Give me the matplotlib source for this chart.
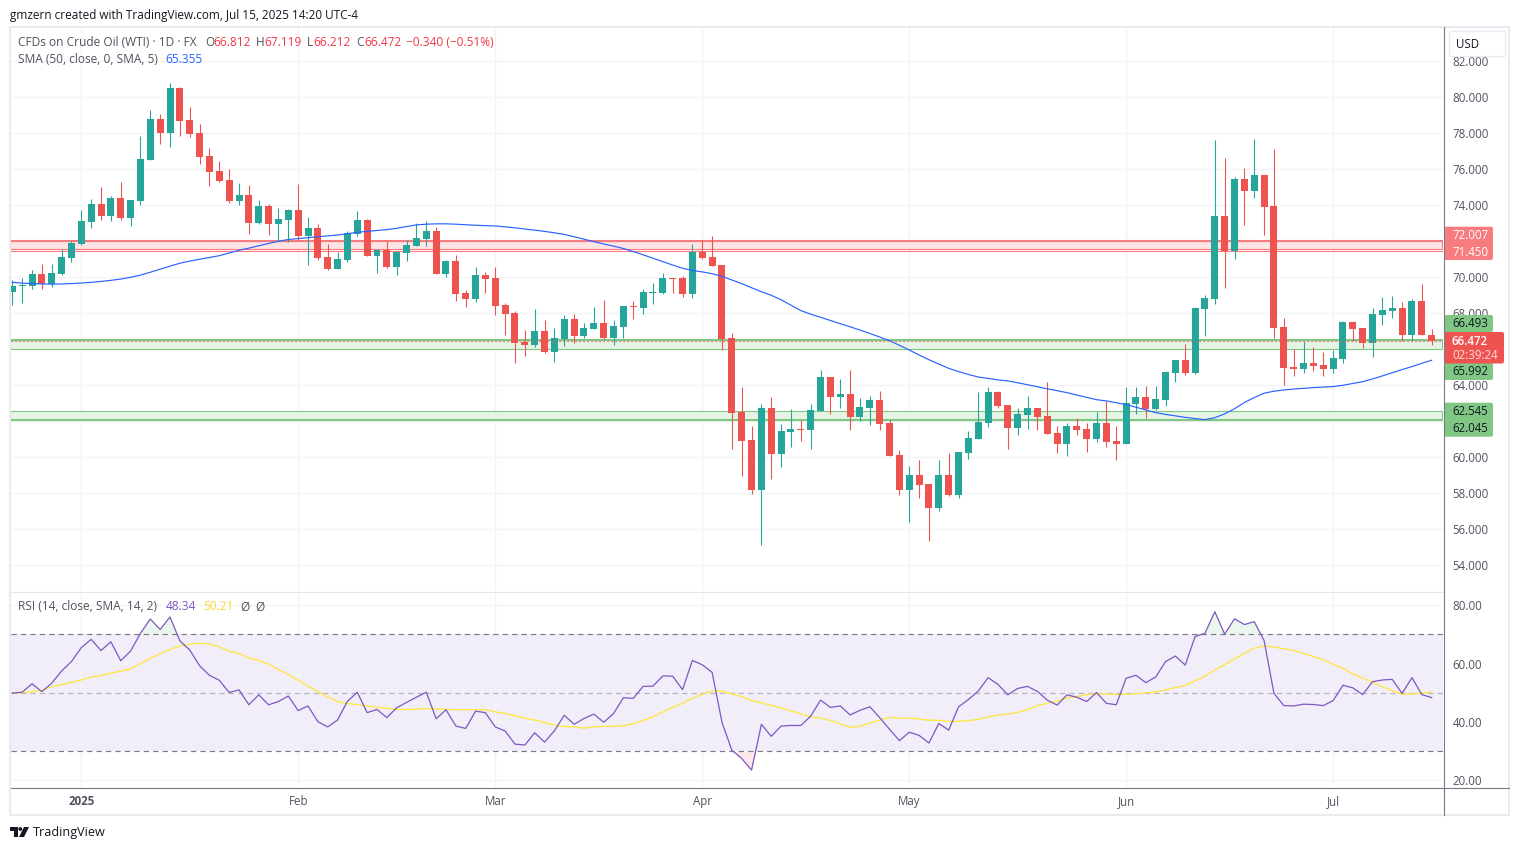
import matplotlib
matplotlib.use("Agg")
import matplotlib.pyplot as plt
from matplotlib.patches import Rectangle, FancyBboxPatch, Polygon, Circle
import numpy as np

plt.rcParams['font.family'] = ['Open Sans', 'DejaVu Sans']

opens = [69.19,69.52,69.52,70.19,69.63,70.19,71.07,71.85,73.07,74.07,
 73.41,74.41,73.30,74.24,76.52,78.80,78.02,80.52,78.74,78.02,
 76.74,75.91,75.41,74.24,74.57,73.02,73.96,72.96,73.19,73.74,
 72.30,72.74,71.13,70.46,70.96,72.41,73.19,71.19,71.52,70.57,
 71.35,71.74,72.13,72.57,70.19,70.91,69.13,68.80,70.13,69.96,
 68.46,68.02,66.41,66.24,67.02,65.85,66.57,67.69,66.74,67.13,
 67.46,66.63,67.24,68.41,68.30,69.13,69.13,69.96,69.96,69.07,
 71.41,71.13,70.69,66.63,62.52,60.96,58.19,62.74,60.19,61.41,
 61.57,61.52,62.57,64.46,63.35,63.52,62.24,62.74,63.19,61.91,
 60.13,58.19,59.02,58.52,57.19,59.02,57.91,60.24,61.02,61.91,
 63.63,62.91,61.63,62.35,62.74,62.30,61.35,60.74,61.74,61.57,
 61.02,61.91,60.91,60.74,62.96,63.35,62.69,63.19,64.69,65.41,
 64.69,68.24,68.80,73.41,71.46,75.46,74.80,75.69,73.96,67.24,
 65.02,64.91,65.24,65.13,64.91,65.46,67.52,67.19,66.35,67.91,
 68.13,68.30,66.80,68.69,66.812]
highs = [69.85,69.96,70.41,70.74,70.74,71.56,72.02,73.74,74.35,75.02,
 74.52,75.30,74.30,77.85,79.30,79.07,80.80,80.57,79.46,78.52,
 77.19,76.46,76.02,75.24,75.13,74.30,74.07,73.85,73.80,75.19,
 73.35,72.96,71.85,71.41,72.57,73.69,73.24,71.57,72.02,71.46,
 72.07,73.02,73.13,72.80,70.96,71.24,69.30,70.57,70.30,70.57,
 68.57,68.13,67.07,68.24,67.63,67.19,67.91,67.96,67.46,68.35,
 68.74,67.63,68.41,68.69,69.35,69.69,70.24,69.96,70.07,71.85,
 72.07,72.30,70.69,66.91,63.91,61.74,62.96,63.35,61.85,62.69,
 62.07,62.96,64.85,64.46,64.35,64.85,63.30,63.41,63.69,62.07,
 60.41,59.52,59.85,58.52,59.85,60.24,60.30,61.46,63.63,63.91,
 63.69,62.91,62.74,63.41,62.74,64.19,61.74,61.91,62.19,61.91,
 62.52,63.13,61.74,63.91,63.91,63.96,63.96,64.80,65.41,66.30,
 68.35,69.02,77.63,76.63,75.57,76.07,77.69,75.69,77.13,67.74,
 66.02,66.46,66.13,65.85,65.96,67.57,67.57,67.19,68.30,68.91,
 68.96,68.63,68.80,69.63,67.119]
lows = [68.46,68.57,69.35,69.35,69.46,70.13,70.85,71.80,72.74,73.19,
 73.13,73.19,72.85,74.02,76.52,77.41,77.24,77.85,77.80,76.30,
 75.07,75.30,74.13,74.02,72.41,72.96,72.35,72.02,71.96,72.07,
 70.69,70.96,70.41,70.46,70.85,72.30,71.19,70.24,70.52,70.13,
 70.91,71.74,71.74,70.19,70.02,68.69,68.35,68.63,69.13,67.91,
 66.80,65.24,65.63,66.13,65.80,65.30,66.19,66.35,66.63,67.13,
 66.57,66.24,66.63,67.69,67.96,68.52,69.07,69.13,68.91,68.85,
 71.02,70.63,65.96,60.46,58.96,57.96,55.13,58.80,59.46,60.57,
 60.91,60.46,62.57,62.41,62.74,61.52,62.02,61.80,61.52,60.07,
 57.91,56.41,57.74,55.35,57.02,57.85,57.74,59.91,61.02,61.69,
 62.74,60.46,61.24,61.57,61.52,61.30,60.24,60.07,61.24,60.30,
 60.85,60.57,59.83,60.74,62.41,62.19,62.63,62.85,64.19,64.57,
 64.63,66.74,68.52,69.41,71.02,72.91,74.41,72.35,66.63,64.02,
 64.52,64.69,64.80,64.52,64.69,65.24,66.46,66.07,65.57,67.35,
 67.74,66.46,66.46,66.80,66.212]
closes = [69.52,69.57,70.19,69.63,70.24,71.13,71.91,73.13,74.07,73.41,
 74.41,73.30,74.30,76.57,78.80,78.02,80.52,78.69,77.96,76.69,
 75.85,75.35,74.24,74.57,73.02,73.96,72.96,73.24,73.74,72.30,
 72.74,71.07,70.46,71.02,72.46,73.19,71.19,71.52,70.57,71.41,
 71.80,72.19,72.57,70.19,70.91,69.07,68.80,70.13,69.91,68.41,
 67.96,66.35,66.24,67.02,65.85,66.63,67.69,66.74,67.19,67.46,
 66.63,67.30,68.41,68.35,69.19,69.19,69.96,69.91,69.07,71.41,
 71.07,70.63,66.57,62.46,60.91,58.19,62.74,60.19,61.46,61.57,
 61.52,62.63,64.46,63.35,63.52,62.24,62.80,63.19,61.85,60.07,
 58.19,59.02,58.46,57.19,59.02,57.91,60.30,61.07,61.96,63.63,
 62.85,61.63,62.41,62.74,62.24,61.30,60.74,61.74,61.52,61.02,
 61.91,60.85,60.74,63.02,63.35,62.69,63.24,64.74,65.41,64.69,
 68.30,68.85,73.41,71.46,75.46,74.80,75.69,73.91,67.19,64.96,
 64.91,65.24,65.07,64.91,65.52,67.52,67.13,66.35,67.96,68.19,
 68.30,66.80,68.69,66.80,66.472]
sma50 = [69.72,69.68,69.65,69.63,69.62,69.63,69.65,69.68,69.72,69.77,
 69.83,69.90,70.00,70.12,70.28,70.45,70.62,70.78,70.90,71.00,
 71.10,71.20,71.35,71.50,71.62,71.75,71.88,72.00,72.10,72.15,
 72.20,72.25,72.30,72.35,72.42,72.50,72.55,72.60,72.65,72.72,
 72.82,72.91,72.95,72.97,72.97,72.95,72.92,72.89,72.87,72.85,
 72.80,72.75,72.68,72.62,72.55,72.47,72.38,72.25,72.12,71.98,
 71.85,71.73,71.60,71.43,71.25,71.06,70.87,70.68,70.50,70.38,
 70.30,70.20,70.05,69.85,69.65,69.42,69.20,69.00,68.75,68.45,
 68.15,67.95,67.78,67.60,67.42,67.25,67.07,66.88,66.68,66.48,
 66.22,65.96,65.68,65.42,65.18,64.94,64.76,64.60,64.46,64.38,
 64.30,64.24,64.14,64.03,63.92,63.80,63.70,63.59,63.46,63.33,
 63.20,63.13,63.03,62.93,62.78,62.63,62.48,62.38,62.30,62.22,
 62.15,62.09,62.20,62.41,62.70,63.04,63.32,63.56,63.67,63.74,
 63.79,63.83,63.87,63.90,63.93,64.00,64.10,64.20,64.35,64.52,
 64.70,64.87,65.04,65.22,65.39]
rsi = [49.9,50.2,53.1,50.4,53.3,57.5,60.7,65.5,68.3,64.5,
 67.5,61.0,64.3,70.4,75.3,71.7,76.0,67.8,64.7,59.3,
 56.0,54.3,50.1,51.0,45.9,49.3,45.9,47.0,48.9,43.9,
 45.5,40.1,38.3,40.7,47.1,50.2,43.2,44.3,41.5,44.9,
 46.7,48.5,50.2,41.1,44.2,38.6,37.8,43.7,43.2,38.3,
 36.9,32.4,32.1,36.3,33.1,37.0,42.3,39.2,41.2,42.7,
 39.9,42.9,48.3,48.1,52.2,52.3,55.8,55.7,51.1,61.1,
 59.6,57.0,39.9,30.3,27.5,23.5,39.2,35.1,38.6,38.8,
 38.8,42.0,47.5,45.0,45.5,42.4,44.0,45.2,41.5,37.5,
 33.6,36.5,35.4,32.8,39.5,37.2,45.2,47.7,50.6,55.2,
 52.9,49.3,51.5,52.2,50.5,47.5,45.8,49.3,48.5,47.0,
 50.1,46.4,45.9,55.0,56.0,53.5,55.4,60.7,62.6,59.5,
 69.3,70.4,77.8,70.1,75.4,73.4,74.4,67.9,49.8,45.6,
 45.5,46.1,46.0,45.6,47.3,52.6,51.7,49.4,53.8,54.4,
 54.6,49.8,55.2,49.4,48.34]
rsi_ma = [49.9,50.1,50.4,50.9,52.1,52.8,53.6,54.4,55.4,55.9,
 56.8,57.4,58.2,60.0,61.8,63.4,64.9,66.0,66.7,67.0,
 66.7,65.8,64.3,63.5,61.9,61.1,59.8,58.0,56.3,54.3,
 52.3,50.4,48.6,47.0,46.3,46.0,45.5,45.0,44.7,44.3,
 44.3,44.4,44.6,44.4,44.3,44.2,44.2,44.2,44.2,43.5,
 42.9,42.1,41.3,40.7,39.8,38.9,38.4,38.3,37.9,38.3,
 38.5,38.5,38.7,39.4,40.5,41.8,43.4,45.0,46.4,48.2,
 49.5,50.6,50.6,49.6,48.7,47.3,46.6,45.7,44.8,43.8,
 42.8,41.7,41.4,40.5,39.4,38.2,38.5,39.7,40.6,41.6,
 41.3,41.3,41.0,40.6,40.6,40.2,40.2,40.5,40.9,41.7,
 42.4,42.7,43.3,44.2,45.6,46.4,47.1,48.3,48.7,49.4,
 49.7,49.6,49.4,49.5,49.7,50.0,50.3,51.0,51.8,52.5,
 54.1,55.7,57.8,59.7,61.6,63.5,65.3,66.1,65.7,65.1,
 64.5,63.5,62.4,61.3,59.8,58.4,56.5,55.1,53.6,52.1,
 50.7,49.5,49.6,49.9,50.21]
month_ticks = [7, 29, 49, 70, 91, 113, 134]
month_labels = ['2025', 'Feb', 'Mar', 'Apr', 'May', 'Jun', 'Jul']
price_ticks = [54, 56, 58, 60, 62, 64, 66, 68, 70, 72, 74, 76, 78, 80, 82]
hidden_price_ticks = [62, 66, 72]
rsi_ticks = [20, 40, 60, 80]
zones = [(71.55, 72.007, 72.007, '#f77c80', '#fde4e5'), (65.992, 66.493, 66.493, '#81c784', '#e6f4e6'),
         (62.045, 62.545, 62.045, '#81c784', '#e6f4e6')]
resistance_low = 71.450
last_price = 66.472

W, H = 1519, 850
GREEN, RED = '#26a69a', '#ef5350'
GRID = '#f3f4f7'
TXT = '#50535e'
FS = 8.3
HS = 8.55

def axbox(x0, y0, x1, y1):
    return [x0 / W, 1 - y1 / H, (x1 - x0) / W, (y1 - y0) / H]

fig = plt.figure(figsize=(W / 100, H / 100), dpi=100, facecolor='white')
ax = fig.add_axes(axbox(10.5, 27, 1443, 591))
ar = fig.add_axes(axbox(10.5, 592, 1443, 787), sharex=ax)

x = np.arange(len(closes))
o, h, l, c = map(np.array, (opens, highs, lows, closes))
cols = [GREEN if a >= b else RED for a, b in zip(c, o)]

xl, xr = -0.183, 145.15
ax.set_xlim(xl, xr)
ax.set_ylim(52.57, 83.906)
ar.set_ylim(17.71, 84.56)

for a in (ax, ar):
    a.grid(True, color=GRID, lw=1.0)
    a.yaxis.tick_right()
    a.tick_params(length=0, labelsize=FS, labelcolor=TXT, pad=7)
    for s in a.spines.values():
        s.set_visible(False)

ax.set_yticks(price_ticks)
ax.set_yticklabels(['' if t in hidden_price_ticks else f'{t:.3f}' for t in price_ticks])
ax.tick_params(axis='x', labelbottom=False)
ar.set_yticks(rsi_ticks)
ar.set_yticklabels([f'{t:.2f}' for t in rsi_ticks])
ar.set_xticks(month_ticks)
ar.set_xticklabels(month_labels)
ar.tick_params(axis='x', pad=5.8)
ar.get_xticklabels()[0].set_fontweight('bold')

# zones
zone_right = (1441.7 - 12.3) / 9.857
for lo, hi, thick, edge, fill in zones:
    ax.add_patch(Rectangle((xl, lo), zone_right - xl, hi - lo, facecolor=fill, edgecolor=edge,
                           lw=0.8, zorder=1.6))
    ax.plot([xl, zone_right], [thick, thick], color=edge, lw=1.5, zorder=1.7)
ax.axhline(resistance_low, color='#f77c80', lw=0.8, zorder=1.7)

# candles
ax.vlines(x, l, h, colors=cols, lw=0.78, zorder=3)
ax.bar(x, np.maximum(np.abs(c - o), 0.06), bottom=np.minimum(o, c), width=0.71, color=cols, lw=0, zorder=3.1)
ax.plot(x, sma50, color='#2962ff', lw=0.85, zorder=4)
ax.axhline(last_price, color=RED, lw=0.9, ls=(0, (1, 2.2)), zorder=4)

# RSI
ar.axhspan(30, 70, color='#f1edf9', lw=0, zorder=0.9)
for lev, col in ((70, '#787b86'), (30, '#787b86'), (50, '#b4b5bc')):
    ar.axhline(lev, color=col, lw=0.85, ls=(0, (4.5, 3.5)), zorder=1.6)
rv = np.array(rsi)
ar.fill_between(x, 70, rv, where=rv >= 70, interpolate=True, color='#eaf6ee', lw=0, zorder=1.2)
ar.fill_between(x, 30, rv, where=rv <= 30, interpolate=True, color='#fde9e7', lw=0, zorder=1.2)
ar.plot(x, rsi_ma, color='#fde83f', lw=0.95, zorder=3)
ar.plot(x, rsi, color='#7e57c2', lw=0.9, zorder=4)

# overlay in pixel coordinates for chart furniture
ov = fig.add_axes([0, 0, 1, 1], zorder=10)
ov.set_xlim(0, W)
ov.set_ylim(H, 0)
ov.axis('off')
ov.patch.set_alpha(0)

# frame
ov.add_patch(Rectangle((10, 27), 1499, 788, fill=False, edgecolor='#e9ebf0', lw=1.5))
ov.plot([10.5, 1443], [591.5, 591.5], color='#e6e8ee', lw=0.8)
ov.plot([10.5, 1509], [787.5, 787.5], color='#787b86', lw=0.8)
ov.plot([1443.5, 1443.5], [27, 815], color='#787b86', lw=0.8)

def label(x0, y0, x1, y1, fc):
    ov.add_patch(FancyBboxPatch((x0 + 1, y0 + 1), x1 - x0 - 2, y1 - y0 - 2, boxstyle='round,pad=1,rounding_size=2',
                                facecolor=fc, edgecolor='none'))

def ptext(px_, py_, s, color, **kw):
    kw.setdefault('fontsize', HS)
    ov.text(px_, py_, s, color=color, va='center', ha='left', **kw)

label(1444, 226.7, 1493, 260, '#f77c80')
ptext(1452, 235, '72.007', 'white', fontsize=FS)
ptext(1452, 252, '71.450', 'white', fontsize=FS)
label(1444, 315, 1493, 332, '#81c784')
ptext(1452, 323.5, '66.493', '#131722', fontsize=FS)
label(1444, 363, 1493, 380, '#81c784')
ptext(1452, 371.5, '65.992', '#131722', fontsize=FS)
label(1444, 332, 1504, 363.5, RED)
ptext(1452, 341, '66.472', 'white', fontweight='semibold', fontsize=FS)
ptext(1452, 355, '02:39:24', '#fcdcdc', fontsize=FS)
label(1444, 402.7, 1493, 436.7, '#81c784')
ptext(1452, 411.5, '62.545', '#131722', fontsize=FS)
ptext(1452, 428.5, '62.045', '#131722', fontsize=FS)

# USD box
ov.add_patch(FancyBboxPatch((1450, 32), 55, 24, boxstyle='round,pad=0.5,rounding_size=2', facecolor='white',
                            edgecolor='#e9ebf0', lw=1.0))
ptext(1456, 44.5, 'USD', '#131722', fontsize=FS)

# headers
ptext(10, 15, 'gmzern created with TradingView.com, Jul 15, 2025 14:20 UTC-4', '#131722', fontsize=8.5)
ptext(18, 42, 'CFDs on Crude Oil (WTI) · 1D · FX', TXT)
R2 = '#f23645'
for lx, vx, lab, val in ((205, 213, 'O', '66.812'), (256, 264, 'H', '67.119'),
                         (307, 313, 'L', '66.212'), (356, 364, 'C', '66.472')):
    ptext(lx, 42, lab, TXT)
    ptext(vx, 42, val, R2)
ptext(406, 42, '−0.340 (−0.51%)', R2)
ptext(18, 59, 'SMA (50, close, 0, SMA, 5)', TXT)
ptext(165, 59, '65.355', '#2962ff')
ptext(18, 607, 'RSI (14, close, SMA, 14, 2)', TXT)
ptext(166, 607, '48.34', '#7e57c2')
ptext(203, 607, '50.21', '#fdd835')
ptext(240, 607, 'Ø', TXT)
ptext(255, 607, 'Ø', TXT)

# footer logo and wordmark
ov.add_patch(Polygon([(10, 827), (18, 827), (18, 837), (14, 837), (14, 831), (10, 831)], closed=True, fc='#131722', ec='none'))
ov.add_patch(Circle((20.3, 829), 1.9, fc='#131722', ec='none'))
ov.add_patch(Polygon([(24, 827), (29, 827), (24, 837), (19, 837)], closed=True, fc='#131722', ec='none'))
ptext(33, 832.5, 'TradingView', '#131722', fontsize=9.1)

fig.savefig('out.png', dpi=100, facecolor='white')
